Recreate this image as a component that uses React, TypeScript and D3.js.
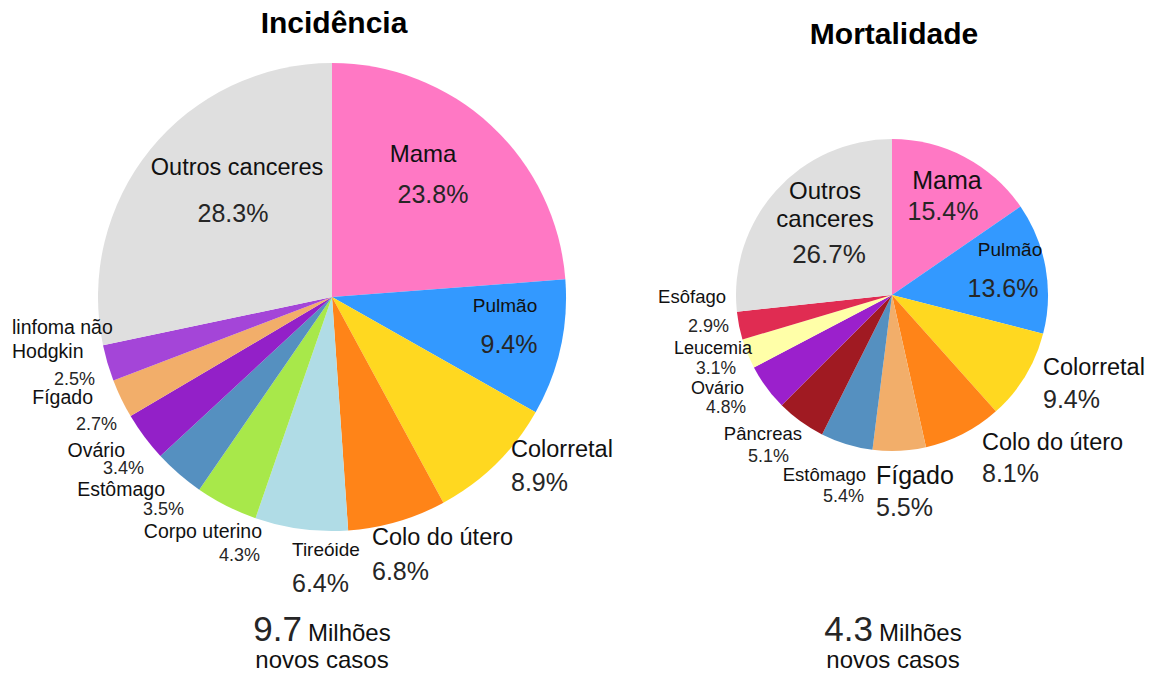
import React from "react";
import * as d3 from "d3";

const width = 1154;
const height = 673;

// Incidência (% dos novos casos)
const incCategories = [
  "Mama",
  "Pulmão",
  "Colorretal",
  "Colo do útero",
  "Tireóide",
  "Corpo uterino",
  "Estômago",
  "Ovário",
  "Fígado",
  "linfoma não Hodgkin",
  "Outros canceres",
];
const incValues = [23.8, 9.4, 8.9, 6.8, 6.4, 4.3, 3.5, 3.4, 2.7, 2.5, 28.3];
const incColors = [
  "#ff78c4", "#3399ff", "#ffd820", "#ff8418", "#b0dce6", "#a8e84a",
  "#5590c0", "#9320c8", "#f2ae6a", "#a445d8", "#dfdfdf",
];

// Mortalidade (% das mortes)
const morCategories = [
  "Mama",
  "Pulmão",
  "Colorretal",
  "Colo do útero",
  "Fígado",
  "Estômago",
  "Pâncreas",
  "Ovário",
  "Leucemia",
  "Esôfago",
  "Outros canceres",
];
const morValues = [15.4, 13.6, 9.4, 8.1, 5.5, 5.4, 5.1, 4.8, 3.1, 2.9, 26.7];
const morColors = [
  "#ff78c4", "#3399ff", "#ffd820", "#ff8418", "#f2ae6a", "#5590c0",
  "#a01a22", "#9b20cc", "#ffffa8", "#e02c52", "#dfdfdf",
];

const totals = ["9.7", "4.3"];

// label layout, kept apart from the data
type Lab = { lines: string[]; x: number; y: number; py: number; a: string; fs: number; ps: number; px?: number; pa?: string };

const incLayout: Lab[] = [
  { lines: ["Mama"], x: 423, y: 162, py: 203, a: "middle", fs: 24, ps: 25, px: 433 },
  { lines: ["Pulmão"], x: 505, y: 312, py: 353, a: "middle", fs: 19, ps: 25, px: 509 },
  { lines: ["Colorretal"], x: 511, y: 457, py: 491, a: "start", fs: 23.5, ps: 25 },
  { lines: ["Colo do útero"], x: 372, y: 545, py: 580, a: "start", fs: 23.5, ps: 25 },
  { lines: ["Tireóide"], x: 292, y: 556, py: 592, a: "start", fs: 19, ps: 25 },
  { lines: ["Corpo uterino"], x: 262, y: 538, py: 561, a: "end", fs: 19.5, ps: 18, px: 260 },
  { lines: ["Estômago"], x: 165, y: 496, py: 515, a: "end", fs: 19.5, ps: 18, px: 184 },
  { lines: ["Ovário"], x: 125, y: 457, py: 474, a: "end", fs: 19.5, ps: 18, px: 144 },
  { lines: ["Fígado"], x: 93, y: 404, py: 430, a: "end", fs: 19.5, ps: 18, px: 117 },
  { lines: ["linfoma não", "Hodgkin"], x: 12, y: 334, py: 385, a: "start", fs: 19.5, ps: 18, px: 95, pa: "end" },
  { lines: ["Outros canceres"], x: 237, y: 175, py: 222, a: "middle", fs: 23.5, ps: 25, px: 233 },
];

const morLayout: Lab[] = [
  { lines: ["Mama"], x: 947, y: 189, py: 220, a: "middle", fs: 25, ps: 25, px: 943 },
  { lines: ["Pulmão"], x: 1010, y: 256, py: 297, a: "middle", fs: 19, ps: 25, px: 1003 },
  { lines: ["Colorretal"], x: 1043, y: 375, py: 408, a: "start", fs: 23.5, ps: 25 },
  { lines: ["Colo do útero"], x: 982, y: 450, py: 482, a: "start", fs: 23.5, ps: 25 },
  { lines: ["Fígado"], x: 876, y: 484, py: 516, a: "start", fs: 25, ps: 25 },
  { lines: ["Estômago"], x: 866, y: 481, py: 502, a: "end", fs: 18.5, ps: 18, px: 864 },
  { lines: ["Pâncreas"], x: 802, y: 440, py: 462, a: "end", fs: 18.5, ps: 18, px: 789 },
  { lines: ["Ovário"], x: 744, y: 394, py: 413, a: "end", fs: 18, ps: 17.5, px: 746 },
  { lines: ["Leucemia"], x: 752, y: 354, py: 374, a: "end", fs: 18, ps: 17.5, px: 736 },
  { lines: ["Esôfago"], x: 726, y: 303, py: 332, a: "end", fs: 18.5, ps: 18, px: 729 },
  { lines: ["Outros", "canceres"], x: 825, y: 199, py: 263, a: "middle", fs: 24, ps: 26, px: 829 },
];

const font = "'Liberation Sans', Arial, sans-serif";
const fmt = d3.format(".1f");

function Pie({ cx, cy, r, values, colors, layout, title, ty, total, bx }: any) {
  const pie = d3.pie<number>().sort(null).value((d) => d);
  const arc = d3.arc<d3.PieArcDatum<number>>().innerRadius(0).outerRadius(r);
  const arcs = pie(values);
  return (
    <g>
      <text x={cx + 2} y={ty} textAnchor="middle" fontSize={30} fontWeight="bold" fill="#000">
        {title}
      </text>
      <g transform={`translate(${cx},${cy})`}>
        {arcs.map((d, i) => (
          <path key={i} d={arc(d) || ""} fill={colors[i]} />
        ))}
      </g>
      {arcs.map((d, i) => {
        const l: Lab = layout[i];
        const px = l.px ?? l.x;
        const pa = l.pa ?? l.a;
        return (
          <g key={i}>
            {l.lines.map((s, j) => (
              <text key={j} x={l.x} y={l.y + j * (l.fs + 4)} textAnchor={l.a} fontSize={l.fs} fill="#111">
                {s}
              </text>
            ))}
            <text x={px} y={l.py} textAnchor={pa} fontSize={l.ps} fill="#262626">
              {fmt(values[i])}%
            </text>
          </g>
        );
      })}
      <text x={bx} y={641} textAnchor="middle" fill="#111">
        <tspan fontSize={35} fill="#262626">{total}</tspan>
        <tspan fontSize={24} dx={6}>Milhões</tspan>
      </text>
      <text x={bx} y={668} textAnchor="middle" fontSize={24} fill="#111">
        novos casos
      </text>
    </g>
  );
}

export default function App() {
  return (
    <svg
      width={width}
      height={height}
      style={{ position: "absolute", left: 0, top: 0, fontFamily: font, background: "#fff" }}
    >
      <Pie cx={332} cy={297} r={234} values={incValues} colors={incColors} layout={incLayout}
        title="Incidência" ty={33} total={totals[0]} bx={322} names={incCategories} />
      <Pie cx={892} cy={295} r={156} values={morValues} colors={morColors} layout={morLayout}
        title="Mortalidade" ty={44} total={totals[1]} bx={893} names={morCategories} />
    </svg>
  );
}
